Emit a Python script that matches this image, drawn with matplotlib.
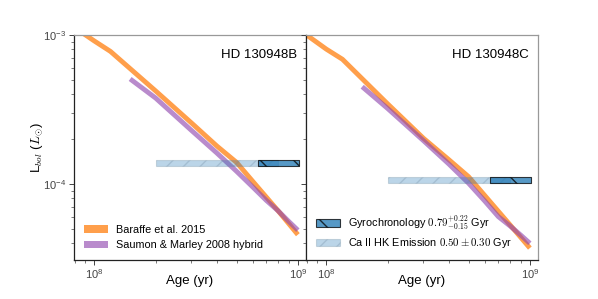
import numpy as np
import matplotlib
matplotlib.use("Agg")
import matplotlib.pyplot as plt
from matplotlib.patches import Patch

plt.rcParams['font.family'] = ['Liberation Sans', 'DejaVu Sans']
plt.rcParams['mathtext.fontset'] = 'cm'

# ---- data (ages in Gyr, log10 Lbol/Lsun) ----
bhac_age = [0.08, 0.1, 0.12, 0.2, 0.3, 0.4, 0.5, 0.625, 0.8, 1.0]
B_bhac_logL = [-2.95, -3.04, -3.11, -3.375, -3.59, -3.745, -3.855, -4.01, -4.18, -4.34]
C_bhac_logL = [-3.00, -3.095, -3.163, -3.462, -3.693, -3.837, -3.951, -4.105, -4.275, -4.43]

sm_age = [0.15, 0.2, 0.3, 0.4, 0.5, 0.6, 0.7, 0.8, 0.9, 1.0]
B_sm_logL = [-3.295, -3.423, -3.64, -3.792, -3.915, -4.02, -4.11, -4.18, -4.25, -4.31]
C_sm_logL = [-3.347, -3.493, -3.709, -3.866, -3.995, -4.114, -4.219, -4.282, -4.342, -4.398]

obs_logL = {'B': -3.86, 'C': -3.97}
obs_logL_err = {'B': 0.022, 'C': 0.020}

gyro_age, gyro_lo, gyro_hi = 0.79, 0.15, 0.22
cahk_age, cahk_err = 0.50, 0.30

names = ['HD 130948B', 'HD 130948C']
bhac_sets = [B_bhac_logL, C_bhac_logL]
sm_sets = [B_sm_logL, C_sm_logL]
comps = ['B', 'C']

orange = 'C1'
purple = '#8e44ad'

fig = plt.figure(figsize=(5.98, 2.99), dpi=100)
ax1 = fig.add_axes([0.1237, 0.1304, 0.388, 0.7525])
ax2 = fig.add_axes([0.5117, 0.1304, 0.388, 0.7525], sharey=ax1)

for ax, name, bh, sm, comp in zip([ax1, ax2], names, bhac_sets, sm_sets, comps):
    ax.set_xscale('log')
    ax.set_yscale('log')
    ax.plot(np.array(bhac_age) * 1e9, 10 ** np.array(bh), color=orange, alpha=0.75,
            lw=3.5, solid_capstyle='butt', zorder=2)
    ax.plot(np.array(sm_age) * 1e9, 10 ** np.array(sm), color=purple, alpha=0.62,
            lw=3.5, solid_capstyle='butt', zorder=2)
    L = obs_logL[comp]
    e = obs_logL_err[comp]
    ylo, yhi = 10 ** (L - e), 10 ** (L + e)
    ax.fill_between(np.array([cahk_age - cahk_err, cahk_age + cahk_err]) * 1e9, ylo, yhi,
                    facecolor='C0', edgecolor='#6f8aa0', alpha=0.3, hatch='//',
                    linewidth=0.8, zorder=3,
                    label=r'Ca II HK Emission $0.50 \pm 0.30$ Gyr')
    ax.fill_between(np.array([gyro_age - gyro_lo, gyro_age + gyro_hi]) * 1e9, ylo, yhi,
                    facecolor='C0', edgecolor='k', alpha=0.75, hatch='\\',
                    linewidth=0.8, zorder=4,
                    label=r'Gyrochronology $0.79^{+0.22}_{-0.15}$ Gyr')
    ax.set_xlim(10 ** 7.90, 10 ** 9.04)
    ax.set_ylim(3.09e-5, 1e-3)
    ax.text(0.96, 0.91, name, transform=ax.transAxes, ha='right', va='center',
            fontsize=9.5)
    ax.set_xlabel('Age (yr)', fontsize=9.5)
    ax.xaxis.set_label_coords(0.5, -0.068)
    ax.tick_params(which='both', direction='out', labelsize=8, labelcolor='#444',
                   color='#444', pad=2)
    ax.tick_params(which='major', length=3.5, width=0.7)
    ax.tick_params(which='minor', length=2, width=0.5)
    for s in ['left', 'bottom']:
        ax.spines[s].set_color('#222')
        ax.spines[s].set_linewidth(0.9)
    for s in ['top', 'right']:
        ax.spines[s].set_color('#999')
        ax.spines[s].set_linewidth(0.9)

plt.setp(ax2.get_yticklabels(), visible=False)
ax1.set_ylabel(r'L$_{bol}$ ($L_{\odot}$)', fontsize=9.5)
ax1.yaxis.set_label_coords(-0.125, 0.5)

h1 = [Patch(facecolor=orange, alpha=0.75, label='Baraffe et al. 2015'),
      Patch(facecolor=purple, alpha=0.62, label='Saumon & Marley 2008 hybrid')]
ax1.legend(handles=h1, loc='lower left', frameon=False, fontsize=7.8,
           borderaxespad=0.5, handlelength=2.2, labelspacing=0.5)

hh, ll = ax2.get_legend_handles_labels()
ax2.legend([hh[1], hh[0]], [ll[1], ll[0]],
           loc='lower left', frameon=False, fontsize=7.8,
           borderaxespad=0.5, handlelength=2.2, labelspacing=0.4)

fig.savefig('out.png', dpi=100)
